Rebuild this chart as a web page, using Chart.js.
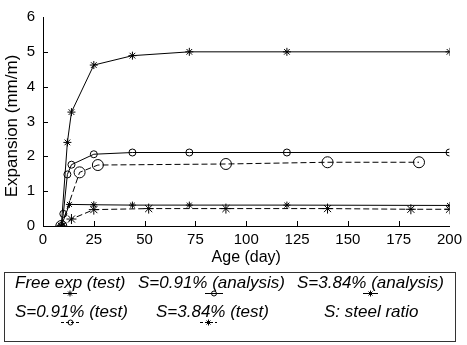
<!DOCTYPE html>
<html>
<head>
<meta charset="utf-8">
<script src="https://cdn.jsdelivr.net/npm/chart.js@4.4.1/dist/chart.umd.min.js"></script>
<style>
  html, body { margin: 0; padding: 0; background: #fff; }
  #wrap { position: relative; width: 467px; height: 345px; }
</style>
</head>
<body>
<div id="wrap"><canvas id="c" width="467" height="345"></canvas></div>
<script>
// ---- data ----
const xTicks = [0, 25, 50, 75, 100, 125, 150, 175, 200];
const yTicks = [0, 1, 2, 3, 4, 5, 6];

const freeDays = [9, 12, 14, 25, 44, 72, 120, 200];
const freeExp  = [0, 2.4, 3.27, 4.62, 4.89, 5.0, 5.0, 5.0];

const an091Days = [9, 10, 12, 14, 25, 44, 72, 120, 200];
const an091Exp  = [0, 0.35, 1.48, 1.76, 2.06, 2.11, 2.11, 2.11, 2.11];

const an384Days = [9, 13, 25, 44, 72, 120, 200];
const an384Exp  = [0, 0.62, 0.61, 0.6, 0.6, 0.6, 0.59];

const test091Days = [9, 18, 27, 90, 140, 185];
const test091Exp  = [0, 1.54, 1.75, 1.78, 1.83, 1.83];

const test384Days = [9, 14, 25, 52, 90, 140, 181, 200];
const test384Exp  = [0, 0.2, 0.47, 0.5, 0.5, 0.5, 0.48, 0.48];

const legendRow1 = ["Free exp (test)", "S=0.91% (analysis)", "S=3.84% (analysis)"];
const legendRow2 = ["S=0.91% (test)", "S=3.84% (test)", "S: steel ratio"];

const yTitle = "Expansion (mm/m)";
const xTitle = "Age (day)";

const pts = (xs, ys) => xs.map((x, i) => ({ x: x, y: ys[i] }));

function ds(label, xs, ys, style, radius, dashed) {
  return {
    label: label,
    data: pts(xs, ys),
    borderColor: '#000',
    backgroundColor: 'rgba(0,0,0,0)',
    borderWidth: 1,
    borderDash: dashed ? [6, 3] : [],
    pointStyle: style,
    pointRadius: radius,
    pointBorderColor: '#000',
    pointBackgroundColor: 'rgba(0,0,0,0)',
    pointBorderWidth: 1,
    tension: 0,
    fill: false
  };
}

const FONT = "'Liberation Sans', Arial, sans-serif";

// inward ticks, y title and legend box
const extras = {
  id: 'extras',
  afterDraw(chart) {
    const ctx = chart.ctx;
    const xs = chart.scales.x, ys = chart.scales.y;
    const a = chart.chartArea;
    ctx.save();
    ctx.strokeStyle = '#000';
    ctx.lineWidth = 1;
    ctx.beginPath();
    yTicks.forEach(v => {
      if (v === 0 || v === 6) return;
      const py = Math.round(ys.getPixelForValue(v)) + 0.5;
      ctx.moveTo(a.left, py); ctx.lineTo(a.left + 5, py);
    });
    xTicks.forEach(v => {
      if (v === 0 || v === 200) return;
      const px = Math.round(xs.getPixelForValue(v)) + 0.5;
      ctx.moveTo(px, a.bottom); ctx.lineTo(px, a.bottom - 5);
    });
    ctx.stroke();

    // y axis title
    ctx.fillStyle = '#000';
    ctx.font = "17px " + FONT;
    ctx.textAlign = 'center';
    ctx.textBaseline = 'middle';
    ctx.translate(12, 126);
    ctx.rotate(-Math.PI / 2);
    ctx.fillText(yTitle, 0, 0);
    ctx.setTransform(1, 0, 0, 1, 0, 0);

    // legend box
    ctx.strokeStyle = '#333';
    ctx.strokeRect(4.5, 272.5, 451, 69);
    ctx.font = "italic 17px " + FONT;
    ctx.textAlign = 'left';
    ctx.textBaseline = 'alphabetic';
    const row1x = [15, 138, 297], row2x = [15, 156, 324];
    legendRow1.forEach((t, i) => ctx.fillText(t, row1x[i], 288));
    legendRow2.forEach((t, i) => ctx.fillText(t, row2x[i], 317));

    // small legend samples
    const sample = (x0, x1, y, kind, dashed) => {
      ctx.beginPath();
      ctx.setLineDash(dashed ? [3, 2] : []);
      ctx.moveTo(x0, y + 0.5); ctx.lineTo(x1, y + 0.5);
      ctx.stroke();
      ctx.setLineDash([]);
      const cx = (x0 + x1) / 2;
      ctx.beginPath();
      if (kind === 'circle') {
        ctx.arc(cx, y + 0.5, 2.5, 0, Math.PI * 2);
      } else {
        const r = 3;
        ctx.moveTo(cx - r, y + 0.5); ctx.lineTo(cx + r, y + 0.5);
        ctx.moveTo(cx, y - r + 0.5); ctx.lineTo(cx, y + r + 0.5);
        ctx.moveTo(cx - 2, y - 1.5); ctx.lineTo(cx + 2, y + 2.5);
        ctx.moveTo(cx - 2, y + 2.5); ctx.lineTo(cx + 2, y - 1.5);
      }
      ctx.stroke();
    };
    ctx.strokeStyle = '#000';
    sample(63, 77, 293, 'star', false);
    sample(205, 223, 293, 'circle', false);
    sample(363, 378, 293, 'star', false);
    sample(61, 80, 322, 'circle', true);
    sample(200, 217, 322, 'star', true);
    ctx.restore();
  }
};

new Chart(document.getElementById('c'), {
  type: 'line',
  data: {
    datasets: [
      ds(legendRow1[0], freeDays, freeExp, 'star', 4, false),
      ds(legendRow1[1], an091Days, an091Exp, 'circle', 3.5, false),
      ds(legendRow1[2], an384Days, an384Exp, 'star', 3.5, false),
      ds(legendRow2[0], test091Days, test091Exp, 'circle', 5.5, true),
      ds(legendRow2[1], test384Days, test384Exp, 'star', 5, true)
    ]
  },
  options: {
    responsive: false,
    devicePixelRatio: 1,
    animation: false,
    events: [],
    layout: { padding: { left: 0, right: 15, top: 9, bottom: 78 } },
    plugins: { legend: { display: false }, tooltip: { enabled: false }, title: { display: false } },
    scales: {
      x: {
        type: 'linear', min: 0, max: 200,
        afterBuildTicks: s => { s.ticks = xTicks.map(v => ({ value: v })); },
        afterFit: s => { s.height = 41; },
        grid: { display: true, drawOnChartArea: false, drawTicks: false },
        border: { display: true, color: '#000', width: 1 },
        ticks: { color: '#000', padding: 5, font: { family: FONT, size: 15 }, maxRotation: 0, autoSkip: false },
        title: { display: true, text: xTitle, color: '#000', font: { family: FONT, size: 16 }, padding: { top: 0, bottom: 0 } }
      },
      y: {
        type: 'linear', min: 0, max: 6,
        afterBuildTicks: s => { s.ticks = yTicks.map(v => ({ value: v })); },
        afterFit: s => { s.width = 43; },
        grid: { display: true, drawOnChartArea: false, drawTicks: false },
        border: { display: true, color: '#000', width: 1 },
        ticks: { color: '#000', padding: 8, font: { family: FONT, size: 15 } }
      }
    }
  },
  plugins: [extras]
});
</script>
</body>
</html>
